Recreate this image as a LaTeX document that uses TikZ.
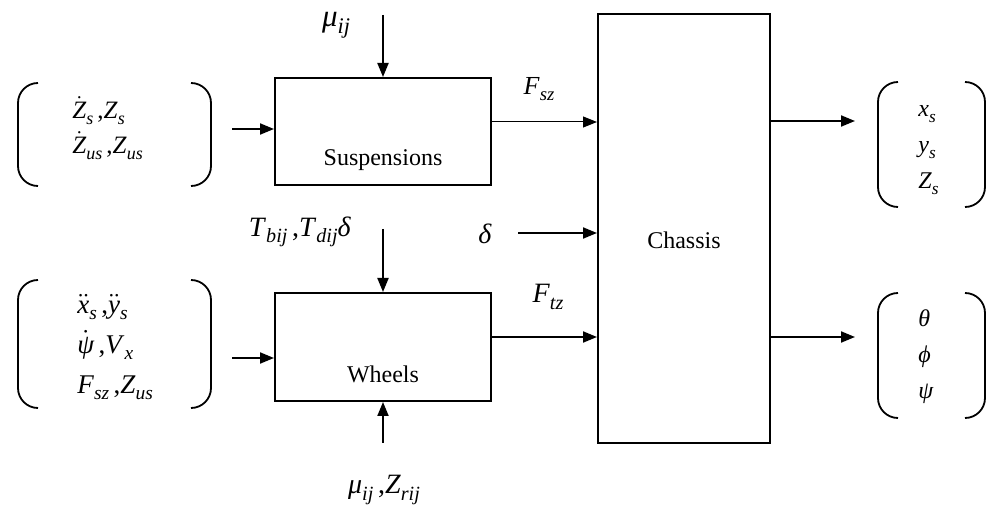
\documentclass[tikz,border=0pt]{standalone}
\usepackage{amsmath}
\usepackage{fontspec}
\setmainfont{Liberation Serif}
\usetikzlibrary{arrows.meta,fit}
\newcommand{\ti}[1]{\textit{#1}}
\newcommand{\sbs}[1]{\raisebox{-0.5ex}{\scalebox{0.72}{\ti{#1}}}}
\newcommand{\fs}[1]{\fontsize{#1}{1.2\dimexpr#1pt\relax}\selectfont}
\newcommand{\lbrk}[3]{\draw[brk] ({#1+20},#2) to[out=180,in=90] (#1,{#2+20}) -- (#1,{#3-20}) to[out=-90,in=180] ({#1+20},#3);}
\newcommand{\rbrk}[3]{\draw[brk] ({#1-20},#2) to[out=0,in=90] (#1,{#2+20}) -- (#1,{#3-20}) to[out=-90,in=0] ({#1-20},#3);}
\begin{document}
\begin{tikzpicture}[x=0.5pt,y=-0.5pt,
  box/.style={draw,line width=1pt,inner sep=0pt},
  brk/.style={line width=0.9pt},
  arr/.style={line width=1pt,-{Triangle[length=7pt,width=5.5pt]}},
  thinarr/.style={line width=0.5pt,-{Triangle[length=7pt,width=5.5pt]}},
  lbl/.style={inner sep=0pt,font=\fs{13}},
  grp/.style={inner sep=0pt,align=left,anchor=west}]
\useasboundingbox (0,0) rectangle (993,519);
% boxes
\node[box,fit={(275,78) (491,185)}] (susp) {};
\node[box,fit={(275,293) (491,401)}] (wheels) {};
\node[box,fit={(598,14) (770,443)}] (chassis) {};
\node[inner sep=0pt,font=\fs{12}] (susptxt) at (383,160) {Suspensions};
\node[inner sep=0pt,font=\fs{12}] (wheeltxt) at (383,374) {Wheels};
\node[inner sep=0pt,font=\fs{12}] (chastxt) at (684,240) {Chassis};
% brackets
\lbrk{18}{83}{186}
\rbrk{211}{83}{186}
\lbrk{18}{280}{408}
\rbrk{211}{280}{408}
\lbrk{878}{82}{207}
\rbrk{985}{82}{207}
\lbrk{878}{293}{418}
\rbrk{985}{293}{418}
% bracket contents
\node[grp,font={\fontsize{12.5}{17.5}\selectfont}] (in1) at (72,128) {$\dot{\ti{Z}}$\sbs{s}\,,\ti{Z}\sbs{s}\\$\dot{\ti{Z}}$\sbs{us}\,,\ti{Z}\sbs{us}};
\node[grp,font={\fontsize{13.5}{20}\selectfont}] (in2) at (77,347) {$\ddot{\ti{x}}$\sbs{s}\,,$\ddot{\ti{y}}$\sbs{s}\\$\dot{\ti{ψ}}$\,,\ti{V}\sbs{x}\\\ti{F}\sbs{sz}\,,\ti{Z}\sbs{us}};
\node[grp,font={\fontsize{12}{18}\selectfont}] (out1) at (918,150) {\ti{x}\sbs{s}\\\ti{y}\sbs{s}\\\ti{Z}\sbs{s}};
\node[grp,font={\fontsize{12}{18}\selectfont}] (out2) at (918,357) {\ti{θ}\\\ti{ϕ}\\\ti{ψ}};
% labels
\node[lbl,font=\fs{15.5}] (mu) at (336,25) {\ti{μ}\sbs{ij}};
\node[lbl] (fsz) at (539,89) {\ti{F}\sbs{sz}};
\node[lbl,font=\fs{14}] (delta) at (485,234) {\ti{δ}};
\node[lbl,font=\fs{14}] (tb) at (300,232) {\ti{T}\sbs{bij}\,,\ti{T}\sbs{dij}\ti{δ}};
\node[lbl,font=\fs{14}] (ftz) at (548,297) {\ti{F}\sbs{tz}};
\node[lbl,font=\fs{14}] (muz) at (384,490) {\ti{μ}\sbs{ij}\,,\ti{Z}\sbs{rij}};
% connector end points
\coordinate (s1) at (232,129);
\coordinate (s2) at (232,358);
\coordinate (mt) at (383,15);
\coordinate (tt) at (383,229);
\coordinate (tbm) at (383,443);
\coordinate (fy) at (491,122);
\coordinate (ty) at (491,337);
\coordinate (dd) at (518,233);
\coordinate (o1) at (855,121);
\coordinate (o2) at (855,337);
% connectors
\draw[arr] (s1) -- (s1 -| susp.west);
\draw[arr] (s2) -- (s2 -| wheels.west);
\draw[arr] (mt) -- (susp.north);
\draw[arr] (tt) -- (wheels.north);
\draw[arr] (tbm) -- (wheels.south);
\draw[thinarr] (fy -| susp.east) -- (fy -| chassis.west);
\draw[arr] (ty -| wheels.east) -- (ty -| chassis.west);
\draw[arr] (dd) -- (dd -| chassis.west);
\draw[arr] (o1 -| chassis.east) -- (o1);
\draw[arr] (o2 -| chassis.east) -- (o2);
\end{tikzpicture}
\end{document}
